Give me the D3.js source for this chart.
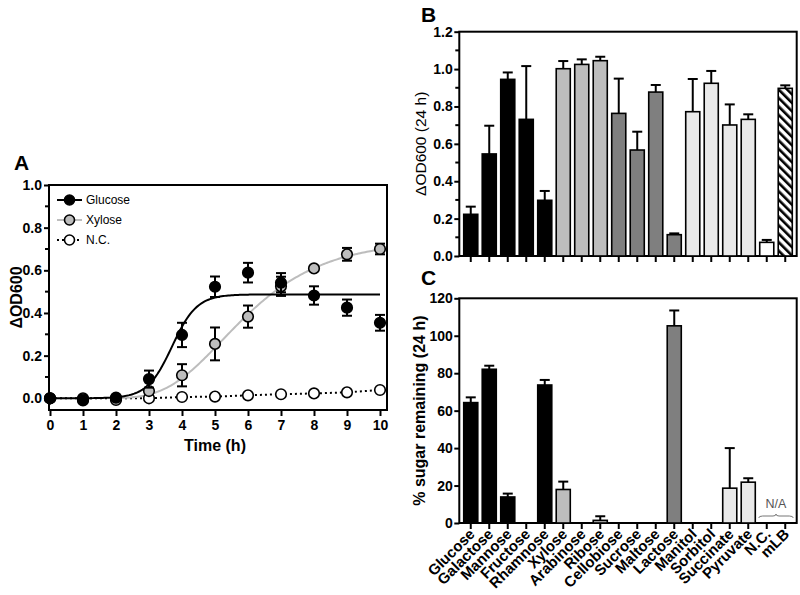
<!DOCTYPE html>
<html lang="en">
<head>
<meta charset="utf-8">
<title>Growth on sugars</title>
<script src="https://d3js.org/d3.v7.min.js"></script>
<style>
  body { margin: 0; background: #fff; }
  svg { display: block; font-family: "Liberation Sans", Arial, sans-serif; }
  .tick text { font-size: 14px; font-weight: bold; fill: #000; }
  .tick line, .domain { stroke: #000; stroke-width: 2; }
  .frame { fill: none; stroke: #000; stroke-width: 2; }
  .panel { font-size: 21px; font-weight: bold; }
  .ylab { font-size: 16px; font-weight: bold; }
  .legend text { font-size: 12px; }
</style>
</head>
<body>
<svg width="800" height="595"></svg>
<script>
// ---- panel A: growth curves ----
var timeH = [0, 1, 2, 3, 4, 5, 6, 7, 8, 9, 10];
var glucoseOD = [0, -0.01, 0.003, 0.09, 0.297, 0.523, 0.589, 0.542, 0.482, 0.425, 0.354];
var glucoseSD = [0, 0, 0, 0.04, 0.057, 0.048, 0.046, 0.045, 0.043, 0.038, 0.037];
var xyloseOD = [0, -0.005, -0.008, 0.034, 0.108, 0.255, 0.383, 0.525, 0.609, 0.675, 0.70];
var xyloseSD = [0, 0, 0, 0.01, 0.052, 0.077, 0.052, 0.045, 0.01, 0.03, 0.025];
var ncOD = [0, 0, 0, 0, 0.006, 0.008, 0.014, 0.019, 0.023, 0.028, 0.039];
// fitted model parameters [top, midpoint (h), rate]
var glucoseFit = [0.487, 3.70, 0.376];   // logistic
var xyloseFit = [0.74, 5.22, 0.592];     // Gompertz

// ---- panels B and C ----
var sugars = ['Glucose', 'Galactose', 'Mannose', 'Fructose', 'Rhamnose', 'Xylose', 'Arabinose',
  'Ribose', 'Cellobiose', 'Sucrose', 'Maltose', 'Lactose', 'Manitol', 'Sorbitol', 'Succinate',
  'Pyruvate', 'N.C.', 'mLB'];
var sugarGroup = ['hexose', 'hexose', 'hexose', 'hexose', 'hexose', 'pentose', 'pentose', 'pentose',
  'disaccharide', 'disaccharide', 'disaccharide', 'disaccharide', 'other', 'other', 'other', 'other',
  'nc', 'mlb'];
var odMean = [0.223, 0.546, 0.945, 0.731, 0.298, 1.002, 1.025, 1.045, 0.763, 0.567, 0.877, 0.114,
  0.772, 0.924, 0.701, 0.731, 0.073, 0.897];
var odTop = [0.264, 0.697, 0.982, 1.016, 0.348, 1.043, 1.052, 1.066, 0.949, 0.665, 0.915, 0.121,
  0.947, 0.99, 0.811, 0.758, 0.086, 0.913];
var remainMean = [64.3, 82.1, 13.9, null, 73.7, 17.9, null, 1.4, null, null, null, 105.3,
  null, null, 18.6, 21.8, null, null];
var remainTop = [67.1, 84, 15.7, null, 76.4, 22.1, null, 3.6, null, null, null, 113.5,
  null, null, 40, 23.9, null, null];

var svg = d3.select('svg');
var defs = svg.append('defs');
var pat = defs.append('pattern').attr('id', 'hatch')
  .attr('patternUnits', 'userSpaceOnUse').attr('width', 6).attr('height', 6)
  .attr('patternTransform', 'rotate(-45)');
pat.append('rect').attr('width', 6).attr('height', 6).attr('fill', '#fff');
pat.append('rect').attr('width', 2.6).attr('height', 6).attr('fill', '#000');

var groupFill = d3.scaleOrdinal()
  .domain(['hexose', 'pentose', 'disaccharide', 'other', 'nc', 'mlb'])
  .range(['#000', '#bdbdbd', '#7f7f7f', '#e9e9e9', '#fff', 'url(#hatch)']);

function minorTicks(g, scale, values, x, len) {
  g.selectAll(null).data(values).enter().append('line')
    .attr('x1', x).attr('x2', x - len)
    .attr('y1', d => scale(d)).attr('y2', d => scale(d))
    .attr('stroke', '#000').attr('stroke-width', 2);
}

// ================= A =================
var xA = d3.scaleLinear().domain([0, 10]).range([50, 380]);
var yA = d3.scaleLinear().domain([0, 1]).range([398.3, 185]);
var aL = 49, aR = 387, aT = 185, aB = 410;

svg.append('rect').attr('class', 'frame').attr('x', aL).attr('y', aT)
  .attr('width', aR - aL).attr('height', aB - aT);

svg.append('g').attr('transform', `translate(${aL},0)`)
  .call(d3.axisLeft(yA).tickValues([0, 0.2, 0.4, 0.6, 0.8, 1.0]).tickFormat(d3.format('.1f')).tickSize(5).tickPadding(2))
  .call(g => g.select('.domain').remove());
minorTicks(svg.append('g'), yA, [0.1, 0.3, 0.5, 0.7, 0.9], aL, 4);

svg.append('g').attr('transform', `translate(0,${aB})`)
  .call(d3.axisBottom(xA).tickValues(timeH).tickSize(6).tickPadding(4))
  .call(g => g.select('.domain').remove());

svg.append('text').attr('class', 'ylab').attr('transform', `translate(21.5,${(aT + aB) / 2}) rotate(-90)`)
  .attr('text-anchor', 'middle').attr('font-size', 17).text('ΔOD600');
svg.append('text').attr('class', 'ylab').attr('x', (50 + 380) / 2).attr('y', 451)
  .attr('text-anchor', 'middle').text('Time (h)');
svg.append('text').attr('class', 'panel').attr('x', 14).attr('y', 170).text('A');

var logistic = (p, t) => p[0] / (1 + Math.exp((p[1] - t) / p[2]));
var gompertz = (p, t) => p[0] * Math.exp(-Math.exp(-p[2] * (t - p[1])));
var tFine = d3.range(0, 10.001, 0.05);

var line = d3.line().x(d => xA(d[0])).y(d => yA(d[1]));

// N.C. dotted
svg.append('path').datum(timeH.map((t, i) => [t, ncOD[i]]))
  .attr('d', line).attr('fill', 'none').attr('stroke', '#000').attr('stroke-width', 2)
  .attr('stroke-dasharray', '2,3');
// xylose fit
svg.append('path').datum(tFine.filter(t => t >= 2).map(t => [t, gompertz(xyloseFit, t)]))
  .attr('d', line).attr('fill', 'none').attr('stroke', '#bdbdbd').attr('stroke-width', 2);
// glucose fit
svg.append('path').datum(tFine.map(t => [t, logistic(glucoseFit, t)]))
  .attr('d', line).attr('fill', 'none').attr('stroke', '#000').attr('stroke-width', 2);

function drawSeries(vals, sd, fill) {
  var g = svg.append('g');
  timeH.forEach((t, i) => {
    if (sd[i] > 0.008) {
      var x = xA(t), y1 = yA(vals[i] - sd[i]), y2 = yA(vals[i] + sd[i]);
      g.append('line').attr('x1', x).attr('x2', x).attr('y1', y1).attr('y2', y2)
        .attr('stroke', '#000').attr('stroke-width', 2);
      [y1, y2].forEach(y => g.append('line').attr('x1', x - 5).attr('x2', x + 5)
        .attr('y1', y).attr('y2', y).attr('stroke', '#000').attr('stroke-width', 2));
    }
  });
  g.selectAll('circle').data(vals).enter().append('circle')
    .attr('cx', (d, i) => xA(timeH[i])).attr('cy', d => yA(d)).attr('r', 5.3)
    .attr('fill', fill).attr('stroke', '#000').attr('stroke-width', 1.6);
}
drawSeries(ncOD, ncOD.map(() => 0), '#fff');
drawSeries(xyloseOD, xyloseSD, '#bdbdbd');
drawSeries(glucoseOD, glucoseSD, '#000');

// legend
var legend = svg.append('g').attr('class', 'legend');
var legItems = [
  { name: 'Glucose', stroke: '#000', fill: '#000', dash: null },
  { name: 'Xylose', stroke: '#bdbdbd', fill: '#bdbdbd', dash: null },
  { name: 'N.C.', stroke: '#000', fill: '#fff', dash: '2,3' }
];
legItems.forEach((it, i) => {
  var y = 200 + i * 20;
  legend.append('line').attr('x1', 57).attr('x2', 82).attr('y1', y).attr('y2', y)
    .attr('stroke', it.stroke).attr('stroke-width', 2).attr('stroke-dasharray', it.dash);
  legend.append('circle').attr('cx', 69.5).attr('cy', y).attr('r', 5)
    .attr('fill', it.fill).attr('stroke', '#000').attr('stroke-width', 1.6);
  legend.append('text').attr('x', 86).attr('y', y + 4.3).text(it.name);
});

// ================= B & C =================
var bL = 459.3, bR = 796.7;
var xB = d3.scaleBand().domain(sugars).range([461.5, 794.5]).paddingInner(0.24).paddingOuter(0.12);

function barPanel(yScale, top, bottom, means, tops, ticks, minors, fmt) {
  svg.append('rect').attr('class', 'frame').attr('x', bL).attr('y', top)
    .attr('width', bR - bL).attr('height', bottom - top);
  svg.append('g').attr('transform', `translate(${bL},0)`)
    .call(d3.axisLeft(yScale).tickValues(ticks).tickFormat(fmt).tickSize(5).tickPadding(1.5))
    .call(g => g.select('.domain').remove());
  if (minors) minorTicks(svg.append('g'), yScale, minors, bL, 4);
  svg.append('g').attr('transform', `translate(0,${bottom})`)
    .call(d3.axisBottom(xB).tickSize(6).tickFormat(''))
    .call(g => g.select('.domain').remove());
  var g = svg.append('g');
  sugars.forEach((s, i) => {
    if (means[i] == null) return;
    var x = xB(s), w = xB.bandwidth(), cx = x + w / 2;
    g.append('line').attr('x1', cx).attr('x2', cx).attr('y1', yScale(means[i])).attr('y2', yScale(tops[i]))
      .attr('stroke', '#000').attr('stroke-width', 2);
    g.append('line').attr('x1', cx - 5).attr('x2', cx + 5).attr('y1', yScale(tops[i])).attr('y2', yScale(tops[i]))
      .attr('stroke', '#000').attr('stroke-width', 2);
    g.append('rect').attr('x', x).attr('y', yScale(means[i]))
      .attr('width', w).attr('height', yScale(0) - yScale(means[i]))
      .attr('fill', groupFill(sugarGroup[i])).attr('stroke', '#000').attr('stroke-width', 1.6);
  });
}

var yB = d3.scaleLinear().domain([0, 1.2]).range([256, 31.7]);
barPanel(yB, 31.7, 256, odMean, odTop, [0, 0.2, 0.4, 0.6, 0.8, 1.0, 1.2],
  [0.1, 0.3, 0.5, 0.7, 0.9, 1.1], d3.format('.1f'));
svg.append('text').attr('transform', `translate(426,${(31.7 + 256) / 2}) rotate(-90)`)
  .attr('text-anchor', 'middle').attr('font-size', 15.5).text('ΔOD600 (24 h)');
svg.append('text').attr('class', 'panel').attr('x', 421).attr('y', 22).text('B');

var yC = d3.scaleLinear().domain([0, 120]).range([523, 298.3]);
barPanel(yC, 298.3, 523, remainMean, remainTop, [0, 20, 40, 60, 80, 100, 120], null, d3.format('d'));
svg.append('text').attr('class', 'ylab').attr('transform', `translate(425,${(298.3 + 523) / 2}) rotate(-90)`)
  .attr('text-anchor', 'middle').attr('font-size', 15.5).text('% sugar remaining (24 h)');
svg.append('text').attr('class', 'panel').attr('x', 421).attr('y', 285).text('C');

// rotated category labels
svg.append('g').selectAll('text').data(sugars).enter().append('text')
  .attr('transform', d => `translate(${xB(d) + xB.bandwidth() / 2 + 5},${535}) rotate(-45)`)
  .attr('text-anchor', 'end').attr('font-size', 15).attr('font-weight', 'bold').text(d => d);

// N/A brace over N.C. and mLB
var b1 = xB('N.C.') - 1, b2 = xB('mLB') + xB.bandwidth() + 1, bm = (b1 + b2) / 2, by = 516;
svg.append('path')
  .attr('d', `M${b1},${by + 2} Q${b1},${by} ${b1 + 4},${by} L${bm - 3},${by} Q${bm},${by} ${bm},${by - 2}` +
    ` Q${bm},${by} ${bm + 3},${by} L${b2 - 4},${by} Q${b2},${by} ${b2},${by + 2}`)
  .attr('fill', 'none').attr('stroke', '#777').attr('stroke-width', 1);
svg.append('text').attr('x', bm).attr('y', 508).attr('text-anchor', 'middle')
  .attr('font-size', 12.5).attr('fill', '#555').text('N/A');
</script>
</body>
</html>
